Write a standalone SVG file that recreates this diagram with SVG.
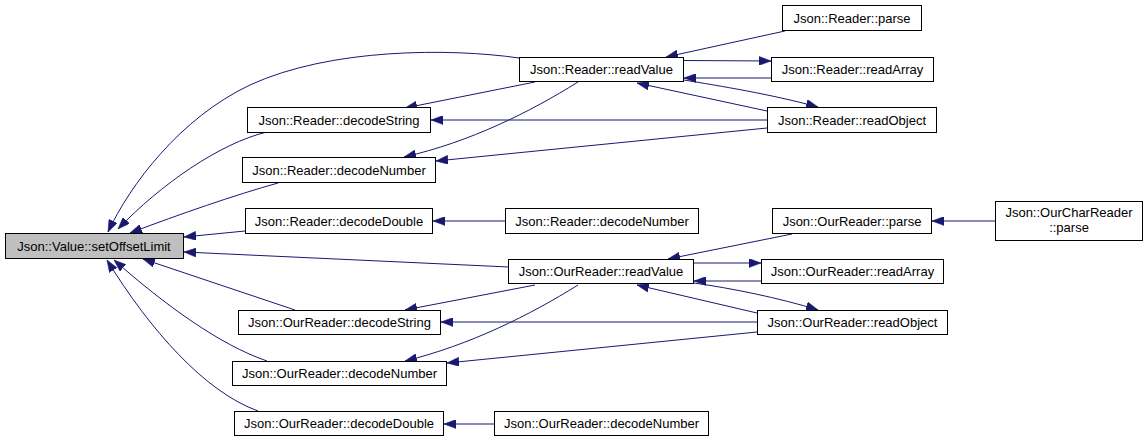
<svg xmlns="http://www.w3.org/2000/svg" width="1148" height="443" viewBox="0 0 1148 443">
<style>
.node rect{fill:#ffffff;stroke:#000000;stroke-width:1}
.node.root rect{fill:#bfbfbf}
.node text{font-family:"Liberation Sans",Arial,sans-serif;font-size:13px;fill:#000000;text-anchor:middle}
.edges path{fill:none;stroke:#191970;stroke-width:1;marker-end:url(#ah)}
</style>
<defs>
<marker id="ah" viewBox="0 0 12 9" refX="12" refY="4.5" markerWidth="12" markerHeight="9" markerUnits="userSpaceOnUse" orient="auto">
<path d="M0,0 L12,4.5 L0,9 z" fill="#191970" stroke="#191970" stroke-width="0.5"/>
</marker>
</defs>
<rect width="1148" height="443" fill="#ffffff"/>
<g id="edges" class="edges">
<path d="M519,58 C450,48 330,48 250,85 C180,118 130,185 108,232"/>
<path d="M267,132 C220,143 160,185 118,229"/>
<path d="M278,183 C235,195 180,214 130,233"/>
<path d="M245,231 L184,237"/>
<path d="M509,267 L184,252"/>
<path d="M295,310 L143,259"/>
<path d="M267,361 C220,345 165,305 114,260"/>
<path d="M258,411 C205,392 150,330 107,260"/>
<path d="M535,82 L405,108"/>
<path d="M767,120 L431,120"/>
<path d="M578,82 C530,112 470,142 404,157"/>
<path d="M767,128 L436,161"/>
<path d="M505,221 L433,221"/>
<path d="M785,31 L666,57"/>
<path d="M684,60.5 L771,61"/>
<path d="M771,78 L684,78"/>
<path d="M684,80 C720,86 770,94 818,107"/>
<path d="M767,111 L637,83"/>
<path d="M792,234 L668,259"/>
<path d="M694,263 L761,263"/>
<path d="M761,281 L694,281"/>
<path d="M694,283 C730,288 780,298 818,310"/>
<path d="M757,313 L637,285"/>
<path d="M757,322 L441,322"/>
<path d="M757,332 L447,363"/>
<path d="M535,285 L405,310"/>
<path d="M578,285 C530,315 470,345 405,361"/>
<path d="M494,424 L444,424"/>
<path d="M996,221 L932,221"/>
</g>
<g id="n0" class="node root"><rect x="5.5" y="233.5" width="178" height="25"/><text x="94" y="250.5">Json::Value::setOffsetLimit</text></g>
<g id="n1" class="node"><rect x="247.5" y="107.5" width="183" height="25"/><text x="339" y="124.5">Json::Reader::decodeString</text></g>
<g id="n2" class="node"><rect x="242.5" y="157.5" width="193" height="25"/><text x="339" y="174.5">Json::Reader::decodeNumber</text></g>
<g id="n3" class="node"><rect x="245.5" y="208.5" width="187" height="25"/><text x="339" y="225.5">Json::Reader::decodeDouble</text></g>
<g id="n4" class="node"><rect x="519.5" y="57.5" width="164" height="24"/><text x="601.5" y="74">Json::Reader::readValue</text></g>
<g id="n5" class="node"><rect x="782.5" y="5.5" width="139" height="25"/><text x="852" y="22.5">Json::Reader::parse</text></g>
<g id="n6" class="node"><rect x="771.5" y="57.5" width="162" height="24"/><text x="852.5" y="74">Json::Reader::readArray</text></g>
<g id="n7" class="node"><rect x="767.5" y="107.5" width="169" height="25"/><text x="852" y="124.5">Json::Reader::readObject</text></g>
<g id="n8" class="node"><rect x="505.5" y="208.5" width="193" height="25"/><text x="602" y="225.5">Json::Reader::decodeNumber</text></g>
<g id="n9" class="node"><rect x="772.5" y="208.5" width="159" height="25"/><text x="852" y="225.5">Json::OurReader::parse</text></g>
<g id="n10" class="node"><rect x="995.5" y="201.5" width="147" height="39"/><text x="1069" y="217">Json::OurCharReader</text><text x="1069" y="231.5">::parse</text></g>
<g id="n11" class="node"><rect x="508.5" y="259.5" width="185" height="24"/><text x="601" y="276">Json::OurReader::readValue</text></g>
<g id="n12" class="node"><rect x="761.5" y="259.5" width="182" height="24"/><text x="852.5" y="276">Json::OurReader::readArray</text></g>
<g id="n13" class="node"><rect x="238.5" y="310.5" width="202" height="24"/><text x="339.5" y="327">Json::OurReader::decodeString</text></g>
<g id="n14" class="node"><rect x="757.5" y="310.5" width="190" height="24"/><text x="852.5" y="327">Json::OurReader::readObject</text></g>
<g id="n15" class="node"><rect x="232.5" y="361.5" width="214" height="24"/><text x="339.5" y="378">Json::OurReader::decodeNumber</text></g>
<g id="n16" class="node"><rect x="234.5" y="411.5" width="209" height="24"/><text x="339" y="428">Json::OurReader::decodeDouble</text></g>
<g id="n17" class="node"><rect x="494.5" y="411.5" width="214" height="24"/><text x="601.5" y="428">Json::OurReader::decodeNumber</text></g>
</svg>
